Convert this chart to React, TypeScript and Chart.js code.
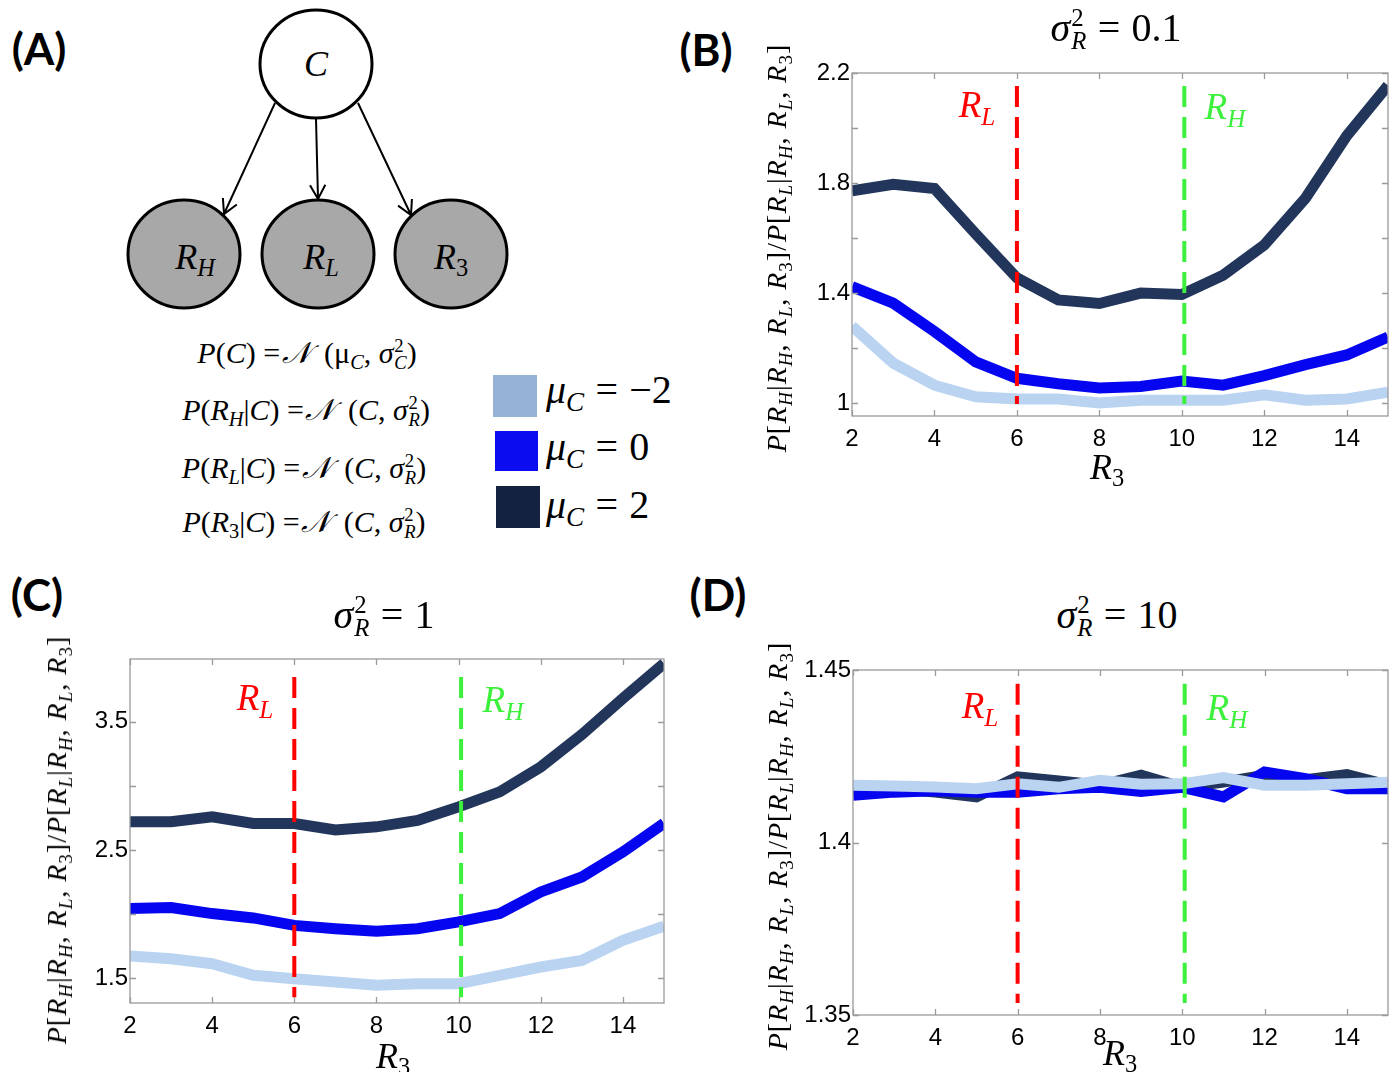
import React, { useEffect, useRef } from 'react';
import { Chart, registerables } from 'chart.js';
Chart.register(...registerables);

// ---------------- data ----------------
const r3Values = [2, 3, 4, 5, 6, 7, 8, 9, 10, 11, 12, 13, 14, 15];
const xTickValues = [2, 4, 6, 8, 10, 12, 14];
const rLowValue = 6;
const rHighValue = 10.06;

// Panel B: sigma_R^2 = 0.1
const bMuNeg2 = [1.28, 1.145, 1.065, 1.023, 1.015, 1.015, 1.0, 1.01, 1.01, 1.01, 1.03, 1.01, 1.015, 1.04];
const bMu0 = [1.423, 1.363, 1.26, 1.15, 1.09, 1.07, 1.055, 1.06, 1.08, 1.065, 1.1, 1.14, 1.175, 1.24];
const bMu2 = [1.772, 1.795, 1.78, 1.615, 1.455, 1.375, 1.362, 1.4, 1.395, 1.465, 1.575, 1.745, 1.972, 2.155];
const bYTicks = [1, 1.2, 1.4, 1.6, 1.8, 2.0, 2.2];
const bYLabels = ['1', '', '1.4', '', '1.8', '', '2.2'];
const bYRange = [0.953, 2.2];
const bMarkerSpan = [2.153, 0.997];

// Panel C: sigma_R^2 = 1
const cMuNeg2 = [1.672, 1.651, 1.612, 1.521, 1.495, 1.469, 1.443, 1.456, 1.456, 1.521, 1.586, 1.638, 1.794, 1.905];
const cMu0 = [2.043, 2.05, 2.003, 1.969, 1.911, 1.885, 1.865, 1.885, 1.938, 2.003, 2.172, 2.289, 2.484, 2.707];
const cMu2 = [2.72, 2.72, 2.758, 2.706, 2.706, 2.656, 2.68, 2.73, 2.836, 2.953, 3.148, 3.4, 3.682, 3.955];
const cYTicks = [1.5, 2.0, 2.5, 3.0, 3.5];
const cYLabels = ['1.5', '', '2.5', '', '3.5'];
const cYRange = [1.305, 3.99];
const cMarkerSpan = [3.85, 1.35];

// Panel D: sigma_R^2 = 10
const dMuNeg2 = [1.4166, 1.4164, 1.4161, 1.4156, 1.417, 1.416, 1.418, 1.4169, 1.417, 1.4188, 1.4166, 1.4166, 1.417, 1.4175];
const dMu0 = [1.4137, 1.4146, 1.415, 1.4146, 1.4146, 1.4156, 1.416, 1.4148, 1.416, 1.4132, 1.4204, 1.4185, 1.4156, 1.4156];
const dMu2 = [1.4156, 1.4156, 1.4146, 1.4132, 1.419, 1.4178, 1.4166, 1.4195, 1.416, 1.4175, 1.4195, 1.4182, 1.4197, 1.4166];
const dYTicks = [1.35, 1.4, 1.45];
const dYLabels = ['1.35', '1.4', '1.45'];
const dYRange = [1.35, 1.45];
const dMarkerSpan = [1.446, 1.3535];

// ---------------- styles ----------------
const COL_NEG2 = '#b9d3f1';
const COL_ZERO = '#0505f0';
const COL_TWO = '#22355a';
const LEG_NEG2 = '#95b3d7';
const LEG_ZERO = '#0c0cf0';
const LEG_TWO = '#13223f';
const RED = '#ff0000';
const GREEN = '#3cf03c';
const AXIS_COL = '#9a9a9a';
const MATH = "'Liberation Serif', 'DejaVu Serif', serif";
const SANS = "'Liberation Sans', Arial, sans-serif";
const BOLD = "Lato, 'Open Sans', sans-serif";

const AX_W = 80;
const AX_H = 45;
const PAD_T = 24;
const PAD_R = 24;

type Rect = { l: number; t: number; r: number; b: number };
type Spec = {
  plot: Rect;
  yRange: number[];
  yTicks: number[];
  yLabels: string[];
  neg2: number[];
  zero: number[];
  two: number[];
  marker: number[];
};

const boxPlugin = {
  id: 'boxTicks',
  afterDatasetsDraw(chart: any) {
    const { ctx, chartArea: a, scales } = chart;
    const x = scales.x;
    const y = scales.y;
    const TL = 6;
    ctx.save();
    ctx.strokeStyle = AXIS_COL;
    ctx.lineWidth = 1.3;
    ctx.strokeRect(a.left, a.top, a.right - a.left, a.bottom - a.top);
    ctx.beginPath();
    x.ticks.forEach((t: any) => {
      const px = Math.round(x.getPixelForValue(t.value)) + 0.5;
      ctx.moveTo(px, a.bottom);
      ctx.lineTo(px, a.bottom - TL);
      ctx.moveTo(px, a.top);
      ctx.lineTo(px, a.top + TL);
    });
    y.ticks.forEach((t: any) => {
      const py = Math.round(y.getPixelForValue(t.value)) + 0.5;
      ctx.moveTo(a.left, py);
      ctx.lineTo(a.left + TL, py);
      ctx.moveTo(a.right, py);
      ctx.lineTo(a.right - TL, py);
    });
    ctx.stroke();
    ctx.restore();
  },
};

function makeConfig(spec: Spec): any {
  const pts = (arr: number[]) => r3Values.map((x, i) => ({ x, y: arr[i] }));
  const common = { pointRadius: 0, tension: 0, clip: 0, fill: false };
  return {
    type: 'line',
    data: {
      datasets: [
        {
          ...common,
          data: [{ x: rLowValue, y: spec.marker[0] }, { x: rLowValue, y: spec.marker[1] }],
          borderColor: RED,
          borderWidth: 4,
          borderDash: [21, 10],
          order: -2,
        },
        {
          ...common,
          data: [{ x: rHighValue, y: spec.marker[0] }, { x: rHighValue, y: spec.marker[1] }],
          borderColor: GREEN,
          borderWidth: 4,
          borderDash: [21, 10],
          order: -1,
        },
        { ...common, data: pts(spec.neg2), borderColor: COL_NEG2, borderWidth: 11, order: 0 },
        { ...common, data: pts(spec.zero), borderColor: COL_ZERO, borderWidth: 11, order: 1 },
        { ...common, data: pts(spec.two), borderColor: COL_TWO, borderWidth: 11, order: 2 },
      ],
    },
    options: {
      animation: false,
      responsive: false,
      events: [],
      layout: { padding: { top: PAD_T, right: PAD_R, left: 0, bottom: 0 } },
      plugins: { legend: { display: false }, tooltip: { enabled: false }, title: { display: false } },
      scales: {
        x: {
          type: 'linear',
          min: 2,
          max: 15,
          grid: { display: false, drawTicks: false },
          border: { display: false },
          afterBuildTicks: (s: any) => {
            s.ticks = xTickValues.map((v) => ({ value: v }));
          },
          afterFit: (s: any) => {
            s.height = AX_H;
          },
          ticks: {
            autoSkip: false,
            maxRotation: 0,
            padding: 9,
            color: '#000',
            font: { family: SANS, size: 24 },
            callback: (v: any) => String(v),
          },
        },
        y: {
          type: 'linear',
          min: spec.yRange[0],
          max: spec.yRange[1],
          grid: { display: false, drawTicks: false },
          border: { display: false },
          afterBuildTicks: (s: any) => {
            s.ticks = spec.yTicks.map((v) => ({ value: v }));
          },
          afterFit: (s: any) => {
            s.width = AX_W;
          },
          ticks: {
            autoSkip: false,
            padding: 2,
            color: '#000',
            font: { family: SANS, size: 24 },
            callback: (_v: any, i: number) => spec.yLabels[i] ?? '',
          },
        },
      },
    },
    plugins: [boxPlugin],
  };
}

function PanelChart({ spec }: { spec: Spec }) {
  const ref = useRef<HTMLCanvasElement>(null);
  const { l, t, r, b } = spec.plot;
  const w = r - l + AX_W + PAD_R;
  const h = b - t + PAD_T + AX_H;
  useEffect(() => {
    const chart = new Chart(ref.current as HTMLCanvasElement, makeConfig(spec));
    return () => chart.destroy();
  }, []);
  return (
    <canvas
      ref={ref}
      width={w}
      height={h}
      style={{ position: 'absolute', left: l - AX_W, top: t - PAD_T, width: w, height: h }}
    />
  );
}

// ---------------- text helpers ----------------
function Txt(props: {
  x: number;
  y: number;
  size: number;
  color?: string;
  family?: string;
  weight?: any;
  rotate?: boolean;
  spacing?: number;
  children: any;
}) {
  return (
    <div
      style={{
        position: 'absolute',
        left: props.x,
        top: props.y,
        transform: `translate(-50%, -50%)${props.rotate ? ' rotate(-90deg)' : ''}`,
        whiteSpace: 'nowrap',
        lineHeight: 1,
        fontSize: props.size,
        color: props.color ?? '#000',
        fontFamily: props.family ?? MATH,
        fontWeight: props.weight ?? 'normal',
        letterSpacing: props.spacing ?? 0,
      }}
    >
      {props.children}
    </div>
  );
}

const Sub = ({ children, it = true }: { children: any; it?: boolean }) => (
  <span style={{ fontSize: '0.68em', position: 'relative', top: '0.3em', fontStyle: it ? 'italic' : 'normal' }}>
    {children}
  </span>
);

const SupSub = ({ sup, sub }: { sup: string; sub: string }) => (
  <span
    style={{
      display: 'inline-block',
      verticalAlign: '-0.32em',
      fontSize: '0.62em',
      lineHeight: 0.92,
      textAlign: 'left',
      marginLeft: '0.04em',
    }}
  >
    <span style={{ display: 'block' }}>{sup}</span>
    <span style={{ display: 'block', fontStyle: 'italic' }}>{sub}</span>
  </span>
);

const R = ({ s, it = true }: { s: string; it?: boolean }) => (
  <>
    <i>R</i>
    <Sub it={it}>{s}</Sub>
  </>
);

const Eq = () => <span style={{ margin: '0 0.28em' }}>=</span>;

const YTitle = ({ x, y }: { x: number; y: number }) => (
  <Txt x={x} y={y} size={28} rotate spacing={1}>
    <i>P</i>[<R s="H" />|<R s="H" />, <R s="L" />, <R s="3" it={false} />]/<i>P</i>[<R s="L" />|<R s="H" />, <R s="L" />,{' '}
    <R s="3" it={false} />]
  </Txt>
);

const SigmaTitle = ({ x, y, v }: { x: number; y: number; v: string }) => (
  <Txt x={x} y={y} size={40}>
    <i>σ</i>
    <SupSub sup="2" sub="R" />
    <Eq />
    {v}
  </Txt>
);

const NN = (
  <span
    style={{
      fontFamily: "'DejaVu Serif', serif",
      fontStyle: 'italic',
      display: 'inline-block',
      marginLeft: '0.05em',
      marginRight: '0.45em',
    }}
  >
    𝒩
  </span>
);

// ---------------- diagram ----------------
const nodes = [
  { cx: 316, cy: 64, fill: '#ffffff' },
  { cx: 184, cy: 254, fill: '#a8a8a8' },
  { cx: 318, cy: 254, fill: '#a8a8a8' },
  { cx: 451, cy: 254, fill: '#a8a8a8' },
];
const arrows = [
  [275, 103, 224, 214],
  [316, 119, 318, 199],
  [358, 103, 411, 215],
];

function arrowPath(a: number[]) {
  const [x1, y1, x2, y2] = a;
  const ang = Math.atan2(y2 - y1, x2 - x1);
  const L = 16;
  const s = 0.5;
  const hx1 = x2 - L * Math.cos(ang - s);
  const hy1 = y2 - L * Math.sin(ang - s);
  const hx2 = x2 - L * Math.cos(ang + s);
  const hy2 = y2 - L * Math.sin(ang + s);
  return `M${x1},${y1} L${x2},${y2} M${hx1},${hy1} L${x2},${y2} L${hx2},${hy2}`;
}

// ---------------- app ----------------
const specB: Spec = {
  plot: { l: 852, t: 73, r: 1388, b: 416 },
  yRange: bYRange,
  yTicks: bYTicks,
  yLabels: bYLabels,
  neg2: bMuNeg2,
  zero: bMu0,
  two: bMu2,
  marker: bMarkerSpan,
};
const specC: Spec = {
  plot: { l: 130, t: 659, r: 664, b: 1003 },
  yRange: cYRange,
  yTicks: cYTicks,
  yLabels: cYLabels,
  neg2: cMuNeg2,
  zero: cMu0,
  two: cMu2,
  marker: cMarkerSpan,
};
const specD: Spec = {
  plot: { l: 853, t: 670, r: 1388, b: 1015 },
  yRange: dYRange,
  yTicks: dYTicks,
  yLabels: dYLabels,
  neg2: dMuNeg2,
  zero: dMu0,
  two: dMu2,
  marker: dMarkerSpan,
};

const legendRow = (top: number, v: string) => (
  <div
    style={{
      position: 'absolute',
      left: 546,
      top,
      fontFamily: MATH,
      fontSize: 40,
      lineHeight: 1,
      whiteSpace: 'nowrap',
    }}
  >
    <i>μ</i>
    <Sub>C</Sub>
    <Eq />
    {v}
  </div>
);

export default function App() {
  return (
    <div
      style={{
        position: 'absolute',
        left: 0,
        top: 0,
        width: 1396,
        height: 1072,
        overflow: 'hidden',
        background: '#fff',
      }}
    >
      <svg width={1396} height={1072} style={{ position: 'absolute', left: 0, top: 0 }}>
        {arrows.map((a, i) => (
          <path key={i} d={arrowPath(a)} stroke="#000" strokeWidth={2} fill="none" />
        ))}
        {nodes.map((n, i) => (
          <ellipse key={i} cx={n.cx} cy={n.cy} rx={56} ry={54} fill={n.fill} stroke="#000" strokeWidth={3} />
        ))}
        <rect x={493} y={375} width={44} height={42} fill={LEG_NEG2} />
        <rect x={495} y={431} width={43} height={40} fill={LEG_ZERO} />
        <rect x={496} y={486} width={44} height={42} fill={LEG_TWO} />
      </svg>

      <PanelChart spec={specB} />
      <PanelChart spec={specC} />
      <PanelChart spec={specD} />

      {/* panel letters */}
      <Txt x={39} y={48} size={44} family={BOLD} weight="bold">(A)</Txt>
      <Txt x={706} y={49} size={44} family={BOLD} weight="bold">(B)</Txt>
      <Txt x={37} y={594} size={44} family={BOLD} weight="bold">(C)</Txt>
      <Txt x={718} y={594} size={44} family={BOLD} weight="bold">(D)</Txt>

      {/* diagram labels */}
      <Txt x={316} y={64} size={36}><i>C</i></Txt>
      <Txt x={195} y={257} size={36}><R s="H" /></Txt>
      <Txt x={321} y={257} size={36}><R s="L" /></Txt>
      <Txt x={451} y={257} size={36}><R s="3" it={false} /></Txt>

      {/* equations */}
      <Txt x={307} y={354} size={30}>
        <i>P</i>(<i>C</i>) ={NN}(μ<Sub>C</Sub>, <i>σ</i><SupSub sup="2" sub="C" />)
      </Txt>
      <Txt x={306} y={411} size={30}>
        <i>P</i>(<R s="H" />|<i>C</i>) ={NN}(<i>C</i>, <i>σ</i><SupSub sup="2" sub="R" />)
      </Txt>
      <Txt x={304} y={469} size={30}>
        <i>P</i>(<R s="L" />|<i>C</i>) ={NN}(<i>C</i>, <i>σ</i><SupSub sup="2" sub="R" />)
      </Txt>
      <Txt x={304} y={523} size={30}>
        <i>P</i>(<R s="3" it={false} />|<i>C</i>) ={NN}(<i>C</i>, <i>σ</i><SupSub sup="2" sub="R" />)
      </Txt>

      {/* legend */}
      {legendRow(370, '−2')}
      {legendRow(427, '0')}
      {legendRow(485, '2')}

      {/* titles */}
      <SigmaTitle x={1116} y={30} v="0.1" />
      <SigmaTitle x={384} y={617} v="1" />
      <SigmaTitle x={1117} y={617} v="10" />

      {/* y titles */}
      <YTitle x={777} y={248} />
      <YTitle x={57} y={840} />
      <YTitle x={778} y={846} />

      {/* x titles */}
      <Txt x={1107} y={467} size={36}><R s="3" it={false} /></Txt>
      <Txt x={393} y={1056} size={36}><R s="3" it={false} /></Txt>
      <Txt x={1120} y={1053} size={36}><R s="3" it={false} /></Txt>

      {/* marker labels */}
      <Txt x={977} y={104} size={37} color={RED}><R s="L" /></Txt>
      <Txt x={1225} y={106} size={37} color={GREEN}><R s="H" /></Txt>
      <Txt x={255} y={697} size={37} color={RED}><R s="L" /></Txt>
      <Txt x={503} y={699} size={37} color={GREEN}><R s="H" /></Txt>
      <Txt x={980} y={705} size={37} color={RED}><R s="L" /></Txt>
      <Txt x={1227} y={707} size={37} color={GREEN}><R s="H" /></Txt>
    </div>
  );
}
